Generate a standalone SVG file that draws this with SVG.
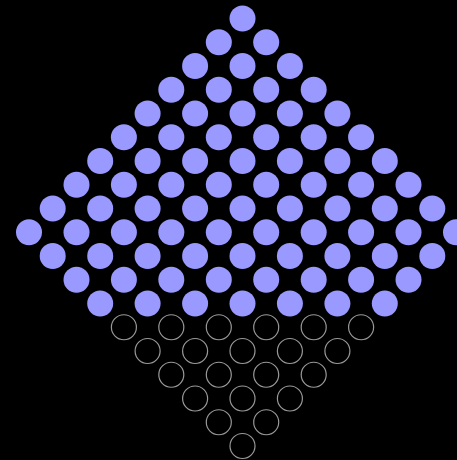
<svg xmlns="http://www.w3.org/2000/svg" width="457" height="460" viewBox="0 0 457 460">
<style>
.f{fill:#9999ff}
.e{fill:none;stroke:#999999;stroke-width:1.2}
</style>
<rect width="457" height="460" fill="#000"/>
<g id="filled">
<circle class="f" cx="242.5" cy="18.5" r="13"/>
<circle class="f" cx="218.8" cy="42.25" r="13"/><circle class="f" cx="266.2" cy="42.25" r="13"/>
<circle class="f" cx="195.1" cy="66" r="13"/><circle class="f" cx="242.5" cy="66" r="13"/><circle class="f" cx="289.9" cy="66" r="13"/>
<circle class="f" cx="171.3" cy="89.75" r="13"/><circle class="f" cx="218.8" cy="89.75" r="13"/><circle class="f" cx="266.2" cy="89.75" r="13"/><circle class="f" cx="313.7" cy="89.75" r="13"/>
<circle class="f" cx="147.6" cy="113.5" r="13"/><circle class="f" cx="195.1" cy="113.5" r="13"/><circle class="f" cx="242.5" cy="113.5" r="13"/><circle class="f" cx="289.9" cy="113.5" r="13"/><circle class="f" cx="337.4" cy="113.5" r="13"/>
<circle class="f" cx="123.9" cy="137.25" r="13"/><circle class="f" cx="171.3" cy="137.25" r="13"/><circle class="f" cx="218.8" cy="137.25" r="13"/><circle class="f" cx="266.2" cy="137.25" r="13"/><circle class="f" cx="313.7" cy="137.25" r="13"/><circle class="f" cx="361.1" cy="137.25" r="13"/>
<circle class="f" cx="100.2" cy="161" r="13"/><circle class="f" cx="147.6" cy="161" r="13"/><circle class="f" cx="195.1" cy="161" r="13"/><circle class="f" cx="242.5" cy="161" r="13"/><circle class="f" cx="289.9" cy="161" r="13"/><circle class="f" cx="337.4" cy="161" r="13"/><circle class="f" cx="384.8" cy="161" r="13"/>
<circle class="f" cx="76.5" cy="184.75" r="13"/><circle class="f" cx="123.9" cy="184.75" r="13"/><circle class="f" cx="171.3" cy="184.75" r="13"/><circle class="f" cx="218.8" cy="184.75" r="13"/><circle class="f" cx="266.2" cy="184.75" r="13"/><circle class="f" cx="313.7" cy="184.75" r="13"/><circle class="f" cx="361.1" cy="184.75" r="13"/><circle class="f" cx="408.5" cy="184.75" r="13"/>
<circle class="f" cx="52.7" cy="208.5" r="13"/><circle class="f" cx="100.2" cy="208.5" r="13"/><circle class="f" cx="147.6" cy="208.5" r="13"/><circle class="f" cx="195.1" cy="208.5" r="13"/><circle class="f" cx="242.5" cy="208.5" r="13"/><circle class="f" cx="289.9" cy="208.5" r="13"/><circle class="f" cx="337.4" cy="208.5" r="13"/><circle class="f" cx="384.8" cy="208.5" r="13"/><circle class="f" cx="432.3" cy="208.5" r="13"/>
<circle class="f" cx="29" cy="232.25" r="13"/><circle class="f" cx="76.5" cy="232.25" r="13"/><circle class="f" cx="123.9" cy="232.25" r="13"/><circle class="f" cx="171.3" cy="232.25" r="13"/><circle class="f" cx="218.8" cy="232.25" r="13"/><circle class="f" cx="266.2" cy="232.25" r="13"/><circle class="f" cx="313.7" cy="232.25" r="13"/><circle class="f" cx="361.1" cy="232.25" r="13"/><circle class="f" cx="408.5" cy="232.25" r="13"/><circle class="f" cx="456" cy="232.25" r="13"/>
<circle class="f" cx="52.7" cy="256" r="13"/><circle class="f" cx="100.2" cy="256" r="13"/><circle class="f" cx="147.6" cy="256" r="13"/><circle class="f" cx="195.1" cy="256" r="13"/><circle class="f" cx="242.5" cy="256" r="13"/><circle class="f" cx="289.9" cy="256" r="13"/><circle class="f" cx="337.4" cy="256" r="13"/><circle class="f" cx="384.8" cy="256" r="13"/><circle class="f" cx="432.3" cy="256" r="13"/>
<circle class="f" cx="76.5" cy="279.75" r="13"/><circle class="f" cx="123.9" cy="279.75" r="13"/><circle class="f" cx="171.3" cy="279.75" r="13"/><circle class="f" cx="218.8" cy="279.75" r="13"/><circle class="f" cx="266.2" cy="279.75" r="13"/><circle class="f" cx="313.7" cy="279.75" r="13"/><circle class="f" cx="361.1" cy="279.75" r="13"/><circle class="f" cx="408.5" cy="279.75" r="13"/>
<circle class="f" cx="100.2" cy="303.5" r="13"/><circle class="f" cx="147.6" cy="303.5" r="13"/><circle class="f" cx="195.1" cy="303.5" r="13"/><circle class="f" cx="242.5" cy="303.5" r="13"/><circle class="f" cx="289.9" cy="303.5" r="13"/><circle class="f" cx="337.4" cy="303.5" r="13"/><circle class="f" cx="384.8" cy="303.5" r="13"/>
</g>
<g id="empty">
<circle class="e" cx="123.9" cy="327.25" r="12.5"/><circle class="e" cx="171.3" cy="327.25" r="12.5"/><circle class="e" cx="218.8" cy="327.25" r="12.5"/><circle class="e" cx="266.2" cy="327.25" r="12.5"/><circle class="e" cx="313.7" cy="327.25" r="12.5"/><circle class="e" cx="361.1" cy="327.25" r="12.5"/>
<circle class="e" cx="147.6" cy="351" r="12.5"/><circle class="e" cx="195.1" cy="351" r="12.5"/><circle class="e" cx="242.5" cy="351" r="12.5"/><circle class="e" cx="289.9" cy="351" r="12.5"/><circle class="e" cx="337.4" cy="351" r="12.5"/>
<circle class="e" cx="171.3" cy="374.75" r="12.5"/><circle class="e" cx="218.8" cy="374.75" r="12.5"/><circle class="e" cx="266.2" cy="374.75" r="12.5"/><circle class="e" cx="313.7" cy="374.75" r="12.5"/>
<circle class="e" cx="195.1" cy="398.5" r="12.5"/><circle class="e" cx="242.5" cy="398.5" r="12.5"/><circle class="e" cx="289.9" cy="398.5" r="12.5"/>
<circle class="e" cx="218.8" cy="422.25" r="12.5"/><circle class="e" cx="266.2" cy="422.25" r="12.5"/>
<circle class="e" cx="242.5" cy="446" r="12.5"/>
</g>
</svg>
